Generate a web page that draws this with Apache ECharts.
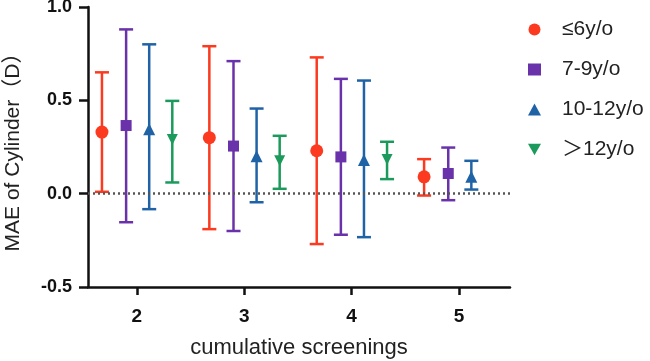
<!DOCTYPE html>
<html>
<head>
<meta charset="utf-8">
<script src="https://cdn.jsdelivr.net/npm/echarts@6/dist/echarts.min.js"></script>
<style>
  html, body { margin: 0; padding: 0; background: #fff; }
  #chart { width: 650px; height: 361px; }
</style>
</head>
<body>
<div id="chart"></div>
<script>
// cumulative screenings
var screenings = [2, 3, 4, 5];

var seriesNames = ['≤6y/o', '7-9y/o', '10-12y/o', '＞12y/o'];

// mean, lower and upper error values per age group
var le6Mean = [0.33, 0.30, 0.23, 0.09];
var le6Low = [0.01, -0.19, -0.27, -0.01];
var le6High = [0.65, 0.79, 0.73, 0.185];

var age7to9Mean = [0.365, 0.255, 0.197, 0.108];
var age7to9Low = [-0.153, -0.20, -0.22, -0.035];
var age7to9High = [0.88, 0.71, 0.615, 0.247];

var age10to12Mean = [0.345, 0.20, 0.18, 0.09];
var age10to12Low = [-0.083, -0.046, -0.233, 0.022];
var age10to12High = [0.80, 0.456, 0.606, 0.176];

var gt12Mean = [0.29, 0.176, 0.183];
var gt12Low = [0.06, 0.026, 0.078];
var gt12High = [0.497, 0.31, 0.278];

var yTicks = [-0.5, 0, 0.5, 1.0];

var colors = ['#fb3a20', '#6a32aa', '#1f63a6', '#1c9a5c'];
var symbols = ['circle', 'rect', 'triangle', 'path://M0,0 L10,0 L5,9 Z'];
var symbolSizes = [13, 11, 12, 11];
var offsets = [-0.325, -0.1, 0.115, 0.33];

var means = [le6Mean, age7to9Mean, age10to12Mean, gt12Mean];
var lows = [le6Low, age7to9Low, age10to12Low, gt12Low];
var highs = [le6High, age7to9High, age10to12High, gt12High];

var font = '"Liberation Sans", Arial, "Noto Sans CJK SC", sans-serif';

var series = [];
means.forEach(function (m, i) {
  var color = colors[i];
  var errData = m.map(function (v, j) {
    return [screenings[j] + offsets[i], lows[i][j], highs[i][j]];
  });
  series.push({
    type: 'custom',
    name: 'err' + i,
    z: 2,
    data: errData,
    renderItem: function (params, api) {
      var x = api.value(0);
      var lo = api.coord([x, api.value(1)]);
      var hi = api.coord([x, api.value(2)]);
      var w = 7;
      var st = { stroke: color, lineWidth: 2.5 };
      return {
        type: 'group',
        children: [
          { type: 'line', shape: { x1: lo[0], y1: lo[1], x2: hi[0], y2: hi[1] }, style: st },
          { type: 'line', shape: { x1: lo[0] - w, y1: lo[1], x2: lo[0] + w, y2: lo[1] }, style: st },
          { type: 'line', shape: { x1: hi[0] - w, y1: hi[1], x2: hi[0] + w, y2: hi[1] }, style: st }
        ]
      };
    }
  });
  series.push({
    type: 'scatter',
    name: seriesNames[i],
    z: 3,
    symbol: symbols[i],
    symbolSize: symbolSizes[i],
    itemStyle: { color: color, opacity: 1 },
    data: m.map(function (v, j) { return [screenings[j] + offsets[i], v]; })
  });
});

// dotted zero line
series.push({
  type: 'line',
  name: 'zero',
  data: [],
  markLine: {
    silent: true,
    symbol: 'none',
    label: { show: false },
    lineStyle: { type: [2, 3], color: '#555', width: 2.5 },
    data: [{ yAxis: 0 }]
  }
});

var chart = echarts.init(document.getElementById('chart'));
chart.setOption({
  animation: false,
  grid: { left: 88, top: 7, right: 140, bottom: 74, outerBoundsMode: 'none' },
  legend: {
    data: seriesNames.map(function (n, i) {
      return { name: n, icon: i === 1 ? 'rect' : symbols[i] };
    }),
    orient: 'vertical',
    left: 523,
    top: 14,
    itemWidth: 13,
    itemHeight: 12,
    itemGap: 19,
    textStyle: { fontSize: 21, color: '#222', fontFamily: font, padding: [0, 0, 0, 16] }
  },
  xAxis: {
    type: 'value',
    min: 1.545,
    max: 5.475,
    name: 'cumulative screenings',
    nameLocation: 'middle',
    nameGap: 50,
    nameTextStyle: { fontSize: 22, color: '#222', fontFamily: font },
    splitLine: { show: false },
    axisLine: { onZero: false, lineStyle: { color: '#111', width: 2.5 } },
    axisTick: { customValues: screenings, length: 8, lineStyle: { color: '#111', width: 2.5 } },
    axisLabel: {
      customValues: screenings,
      margin: 20,
      fontSize: 19,
      fontWeight: 'bold',
      color: '#111',
      fontFamily: font
    }
  },
  yAxis: {
    type: 'value',
    min: yTicks[0],
    max: yTicks[yTicks.length - 1],
    interval: 0.5,
    name: 'MAE of Cylinder（D）',
    nameLocation: 'middle',
    nameGap: 64,
    nameTextStyle: { fontSize: 21, color: '#222', fontFamily: font },
    splitLine: { show: false },
    axisLine: { show: true, lineStyle: { color: '#111', width: 2.5 } },
    axisTick: { show: true, length: 9, lineStyle: { color: '#111', width: 2.5 } },
    axisLabel: {
      margin: 16,
      fontSize: 18,
      fontWeight: 'bold',
      color: '#111',
      fontFamily: font,
      formatter: function (v) { return v.toFixed(1); }
    }
  },
  series: series
});
</script>
</body>
</html>
